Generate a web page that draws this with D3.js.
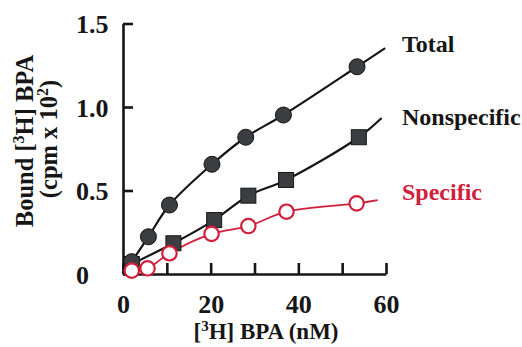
<meta charset="utf-8">
<script src="https://d3js.org/d3.v7.min.js"></script>
<style>
  body { margin: 0; background: #fff; }
  text { font-family: "Liberation Serif", "Times New Roman", serif; font-weight: bold; }
</style>
<body>
<div id="chart"></div>
<script>

// values
var totalX = [2.0, 5.8, 10.6, 20.3, 28.0, 36.6, 53.4]
var totalY = [0.074, 0.223, 0.413, 0.657, 0.819, 0.952, 1.241]
var nonspecX = [2.0, 11.5, 20.8, 28.6, 37.2, 53.8]
var nonspecY = [0.06, 0.184, 0.323, 0.469, 0.563, 0.819]
var specX = [2.0, 5.6, 10.6, 20.2, 28.6, 37.3, 53.3]
var specY = [0.02, 0.034, 0.124, 0.24, 0.287, 0.373, 0.423]
// where each fitted line stops
var lineEndX = [59.8, 59.0, 58.1]
var lineEndY = [1.353, 0.934, 0.443]
var seriesNames = ["Total", "Nonspecific", "Specific"]

var xTicks = [0, 10, 20, 30, 40, 50, 60]
var xTickLabels = ["0", "", "20", "", "40", "", "60"]
var yTicks = [0, 0.5, 1.0, 1.5]
var yTickLabels = ["0", "0.5", "1.0", "1.5"]

var width = 522
var height = 347
var ink = "#161616"
var red = "#d0203c"

var svg = d3.select("#chart")
  .append("svg")
    .attr("width", width)
    .attr("height", height)

var x = d3.scaleLinear().domain([0, 60]).range([123, 386])
var y = d3.scaleLinear().domain([0, 1.5]).range([274, 23.5])

// fitted lines
var line = d3.line()
  .x(function(d){ return x(d[0]) })
  .y(function(d){ return y(d[1]) })
  .curve(d3.curveCatmullRom)

var series = [
  { xs: totalX, ys: totalY, color: ink },
  { xs: nonspecX, ys: nonspecY, color: ink },
  { xs: specX, ys: specY, color: red }
]
series.forEach(function(s, i){
  var pts = s.xs.map(function(v, j){ return [v, s.ys[j]] })
  pts.push([lineEndX[i], lineEndY[i]])
  svg.append("path")
    .attr("d", line(pts))
    .attr("fill", "none")
    .attr("stroke", s.color)
    .attr("stroke-width", i == 2 ? 1.8 : 2.2)
})

// axes
var yAxis = svg.append("g")
  .attr("transform", "translate(" + x(0) + ",0)")
  .call(d3.axisLeft(y).tickValues(yTicks).tickSize(-10).tickSizeOuter(0)
    .tickFormat(function(d, i){ return yTickLabels[i] }))
yAxis.selectAll("text")
  .attr("x", -47)
  .attr("dy", "0.35em")
  .attr("text-anchor", "start")
  .attr("font-size", 26)

var xAxis = svg.append("g")
  .attr("transform", "translate(0," + y(0) + ")")
  .call(d3.axisBottom(x).tickValues(xTicks).tickSize(-11).tickSizeOuter(0)
    .tickFormat(function(d, i){ return xTickLabels[i] }))
xAxis.selectAll("text")
  .attr("y", 39)
  .attr("dy", 0)
  .attr("font-size", 26)

svg.selectAll(".domain, .tick line")
  .attr("stroke", ink)
  .attr("stroke-width", 2.6)
svg.selectAll(".tick text").attr("fill", ink).style("font-family", "Liberation Serif").style("font-weight", "bold")

// markers
svg.append("g").selectAll("rect")
  .data(nonspecX.map(function(v, j){ return [v, nonspecY[j]] }))
  .enter().append("rect")
    .attr("x", function(d){ return x(d[0]) - 7.5 })
    .attr("y", function(d){ return y(d[1]) - 7.5 })
    .attr("width", 15)
    .attr("height", 15)
    .attr("fill", "#3b3d40")
    .attr("stroke", ink)
    .attr("stroke-width", 1)

svg.append("g").selectAll("circle")
  .data(totalX.map(function(v, j){ return [v, totalY[j]] }))
  .enter().append("circle")
    .attr("cx", function(d){ return x(d[0]) })
    .attr("cy", function(d){ return y(d[1]) })
    .attr("r", 8)
    .attr("fill", "#3b3d40")
    .attr("stroke", ink)
    .attr("stroke-width", 1)

svg.append("g").selectAll("circle")
  .data(specX.map(function(v, j){ return [v, specY[j]] }))
  .enter().append("circle")
    .attr("cx", function(d){ return x(d[0]) })
    .attr("cy", function(d){ return y(d[1]) })
    .attr("r", 7.2)
    .attr("fill", "#fff")
    .attr("stroke", red)
    .attr("stroke-width", 2.2)

// series labels
var labelY = [52, 125, 200]
svg.selectAll(".series-label")
  .data(seriesNames)
  .enter().append("text")
    .attr("class", "series-label")
    .attr("x", 402)
    .attr("y", function(d, i){ return labelY[i] })
    .attr("font-size", 24)
    .attr("fill", function(d, i){ return i == 2 ? red : ink })
    .text(function(d){ return d })

// axis titles
var xt = svg.append("text")
  .attr("x", 266)
  .attr("y", 339)
  .attr("text-anchor", "middle")
  .attr("font-size", 23)
  .attr("fill", ink)
xt.append("tspan").text("[")
xt.append("tspan").attr("font-size", 15).attr("dy", -8).text("3")
xt.append("tspan").attr("dy", 8).text("H] BPA (nM)")

var yt = svg.append("text")
  .attr("transform", "translate(33,141) rotate(-90)")
  .attr("text-anchor", "middle")
  .attr("font-size", 24.5)
  .attr("fill", ink)
yt.append("tspan").text("Bound [")
yt.append("tspan").attr("font-size", 16).attr("dy", -9).text("3")
yt.append("tspan").attr("dy", 9).text("H] BPA")

var yt2 = svg.append("text")
  .attr("transform", "translate(57,139) rotate(-90)")
  .attr("text-anchor", "middle")
  .attr("font-size", 24.5)
  .attr("fill", ink)
yt2.append("tspan").text("(cpm x 10")
yt2.append("tspan").attr("font-size", 16).attr("dy", -9).text("2")
yt2.append("tspan").attr("dy", 9).text(")")

</script>
</body>
